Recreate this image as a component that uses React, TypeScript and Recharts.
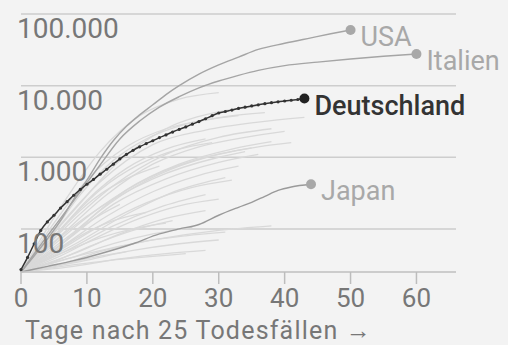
import { LineChart, Line, XAxis, YAxis, CartesianGrid } from "recharts";

const FONT = "Roboto, sans-serif";
const BG = "#f3f3f3";

// log-scale y ticks (deaths) and x ticks (days since 25th death)
const yTicks = [100, 1000, 10000, 100000];
const xTicks = [0, 10, 20, 30, 40, 50, 60];

// Deutschland, one value per day from day 0
const germany = [
  27, 40, 62, 95, 125, 155, 195, 240, 295, 355, 420, 490, 580, 680, 800, 950,
  1100, 1250, 1400, 1550, 1700, 1880, 2050, 2250, 2450, 2650, 2900, 3150, 3450,
  3800, 4150, 4350, 4550, 4800, 5000, 5200, 5400, 5600, 5780, 5950, 6100, 6250,
  6400, 6600,
];

// [day, deaths]
const usa = [
  [0, 25], [3, 55], [6, 130], [8, 260], [10, 480], [12, 950], [14, 1700], [16, 2700],
  [18, 3900], [20, 5400], [22, 7500], [24, 10000], [27, 14500], [30, 19500],
  [33, 25000], [36, 32000], [40, 39000], [44, 46500], [47, 53000], [50, 59800],
];
const italy = [
  [0, 25], [3, 60], [6, 140], [9, 330], [12, 780], [15, 1800], [18, 3200], [21, 5000],
  [24, 7000], [27, 9300], [30, 11600], [33, 13900], [36, 16300], [40, 19000],
  [45, 21300], [50, 23500], [55, 25700], [60, 27700],
];
const japan = [
  [0, 25], [4, 30], [8, 36], [12, 45], [17, 62], [21, 85], [24, 100], [27, 115],
  [30, 155], [33, 200], [35, 235], [37, 285], [39, 345], [41, 385], [44, 420],
];

// the grey fan of all other countries
const others = [
  [[0, 25], [6, 200], [12, 1200], [18, 3800], [24, 6500], [30, 8000]],
  [[0, 25], [8, 180], [15, 900], [22, 2500], [30, 4300], [36, 5200]],
  [[0, 25], [5, 90], [12, 450], [20, 1500], [28, 2400], [36, 3100], [43, 3600]],
  [[0, 25], [7, 110], [14, 400], [22, 1100], [30, 1900], [38, 2500]],
  [[0, 25], [6, 80], [13, 300], [20, 800], [27, 1400], [34, 1900], [40, 2300]],
  [[0, 25], [8, 90], [16, 350], [24, 800], [32, 1300], [38, 1650]],
  [[0, 25], [5, 60], [12, 200], [20, 550], [28, 1000], [35, 1350]],
  [[0, 25], [7, 70], [14, 220], [22, 500], [30, 850], [36, 1100]],
  [[0, 25], [6, 55], [13, 150], [20, 330], [27, 560], [33, 750]],
  [[0, 25], [8, 60], [16, 160], [24, 350], [31, 520]],
  [[0, 25], [5, 45], [12, 110], [19, 230], [26, 380], [32, 480]],
  [[0, 25], [7, 50], [14, 110], [21, 200], [28, 300]],
  [[0, 25], [6, 42], [12, 80], [18, 140], [24, 210], [30, 260]],
  [[0, 25], [8, 45], [15, 85], [22, 140], [28, 180]],
  [[0, 25], [5, 35], [11, 60], [17, 95], [23, 130]],
  [[0, 25], [7, 38], [14, 62], [20, 85], [26, 105]],
  [[0, 25], [6, 32], [12, 48], [18, 65], [25, 80], [31, 90]],
  [[0, 25], [9, 35], [17, 50], [24, 62], [30, 70]],
  [[0, 25], [5, 30], [11, 40], [16, 48]],
  [[0, 25], [8, 30], [15, 38], [22, 45], [28, 50]],
  [[0, 25], [4, 70], [9, 300], [14, 900], [19, 1800], [25, 2900], [31, 3700], [37, 4200]],
  [[0, 25], [5, 120], [10, 480], [16, 1400], [22, 2500], [28, 3300], [33, 3800]],
  [[0, 25], [4, 60], [10, 250], [16, 700], [22, 1300], [28, 1800]],
  [[0, 25], [6, 100], [12, 350], [18, 800], [24, 1300], [29, 1600]],
  [[0, 25], [10, 150], [20, 500], [30, 1000], [34, 1200]],
  [[0, 25], [5, 50], [10, 120], [15, 220]],
  [[0, 25], [4, 40], [9, 80], [14, 130], [19, 170]],
  [[0, 25], [6, 45], [12, 75], [17, 100], [22, 120]],
  [[0, 25], [3, 45], [7, 120], [11, 260], [16, 500], [21, 750]],
  [[0, 25], [10, 45], [20, 70], [30, 95], [38, 110]],
  [[0, 25], [12, 35], [25, 45]],
  [[0, 25], [6, 60], [12, 180], [18, 420], [24, 750], [30, 1100], [36, 1400], [41, 1600]],
];

const rows = (pts: number[][]) => pts.map(([day, v]) => ({ day, v }));
const germanyRows = germany.map((v, day) => ({ day, v }));

const fmt = (v: number) => v.toLocaleString("de-DE");

function YTick({ y, payload }: any) {
  return (
    <text x={17} y={y + 24} fill="#777" fontSize={28} fontFamily={FONT}>
      {fmt(payload.value)}
    </text>
  );
}

function XTick({ x, y, payload }: any) {
  return (
    <text x={x} y={y + 21} fill="#777" fontSize={26} fontFamily={FONT} textAnchor="middle">
      {payload.value}
    </text>
  );
}

// end dot + country name on the last point of a highlighted series
function endDot(last: number, name: string, color: string, textColor: string, weight = 400, small?: string) {
  return (p: any) => {
    const { cx, cy, index } = p;
    if (index !== last) {
      if (!small) return <g key={`d-${index}`} />;
      return <circle key={`d-${index}`} cx={cx} cy={cy} r={1.6} fill={small} />;
    }
    return (
      <g key={`d-${index}`}>
        <circle cx={cx} cy={cy} r={5} fill={color} />
        <text x={cx + 10} y={cy + 16} fill={textColor} fontSize={27} fontWeight={weight} fontFamily={FONT}>
          {name}
        </text>
      </g>
    );
  };
}

export default function App() {
  return (
    <div style={{ position: "absolute", left: 0, top: 0, width: 508, height: 345, background: BG, overflow: "hidden" }}>
      <LineChart width={508} height={345} margin={{ top: 14, right: 52, left: 0, bottom: 0 }}>
        <CartesianGrid vertical={false} stroke="#cdcdcd" strokeWidth={1.5} />
        <XAxis
          type="number"
          dataKey="day"
          domain={[0, 66]}
          ticks={xTicks}
          height={73}
          axisLine={{ stroke: "#c8c8c8", strokeWidth: 1.5 }}
          tickLine={{ stroke: "#bdbdbd", strokeWidth: 1.5 }}
          tickSize={12}
          tick={<XTick />}
        />
        <YAxis
          scale="log"
          domain={[25, 100000]}
          ticks={yTicks}
          width={21}
          axisLine={false}
          tickLine={false}
          tick={<YTick />}
        />
        {others.map((s, i) => (
          <Line
            key={i}
            data={rows(s)}
            dataKey="v"
            type="monotone"
            stroke="#d9d9d9"
            strokeWidth={1.3}
            dot={false}
            activeDot={false}
            isAnimationActive={false}
          />
        ))}
        <Line
          data={rows(japan)}
          dataKey="v"
          type="monotone"
          stroke="#9a9a9a"
          strokeWidth={1.4}
          dot={endDot(japan.length - 1, "Japan", "#a8a8a8", "#a8a8a8")}
          activeDot={false}
          isAnimationActive={false}
        />
        <Line
          data={rows(italy)}
          dataKey="v"
          type="monotone"
          stroke="#a5a5a5"
          strokeWidth={1.4}
          dot={endDot(italy.length - 1, "Italien", "#a8a8a8", "#a8a8a8")}
          activeDot={false}
          isAnimationActive={false}
        />
        <Line
          data={rows(usa)}
          dataKey="v"
          type="monotone"
          stroke="#a5a5a5"
          strokeWidth={1.4}
          dot={endDot(usa.length - 1, "USA", "#a8a8a8", "#a8a8a8")}
          activeDot={false}
          isAnimationActive={false}
        />
        <Line
          data={germanyRows}
          dataKey="v"
          type="monotone"
          stroke="#333"
          strokeWidth={1.5}
          dot={endDot(germany.length - 1, "Deutschland", "#222", "#333", 500, "#333")}
          activeDot={false}
          isAnimationActive={false}
        />
      </LineChart>
      <div
        style={{
          position: "absolute",
          left: 25,
          top: 318,
          fontFamily: FONT,
          fontSize: 25,
          letterSpacing: 1.2,
          color: "#777",
          whiteSpace: "nowrap",
          lineHeight: "26px",
        }}
      >
        Tage nach 25 Todesfällen →
      </div>
    </div>
  );
}
